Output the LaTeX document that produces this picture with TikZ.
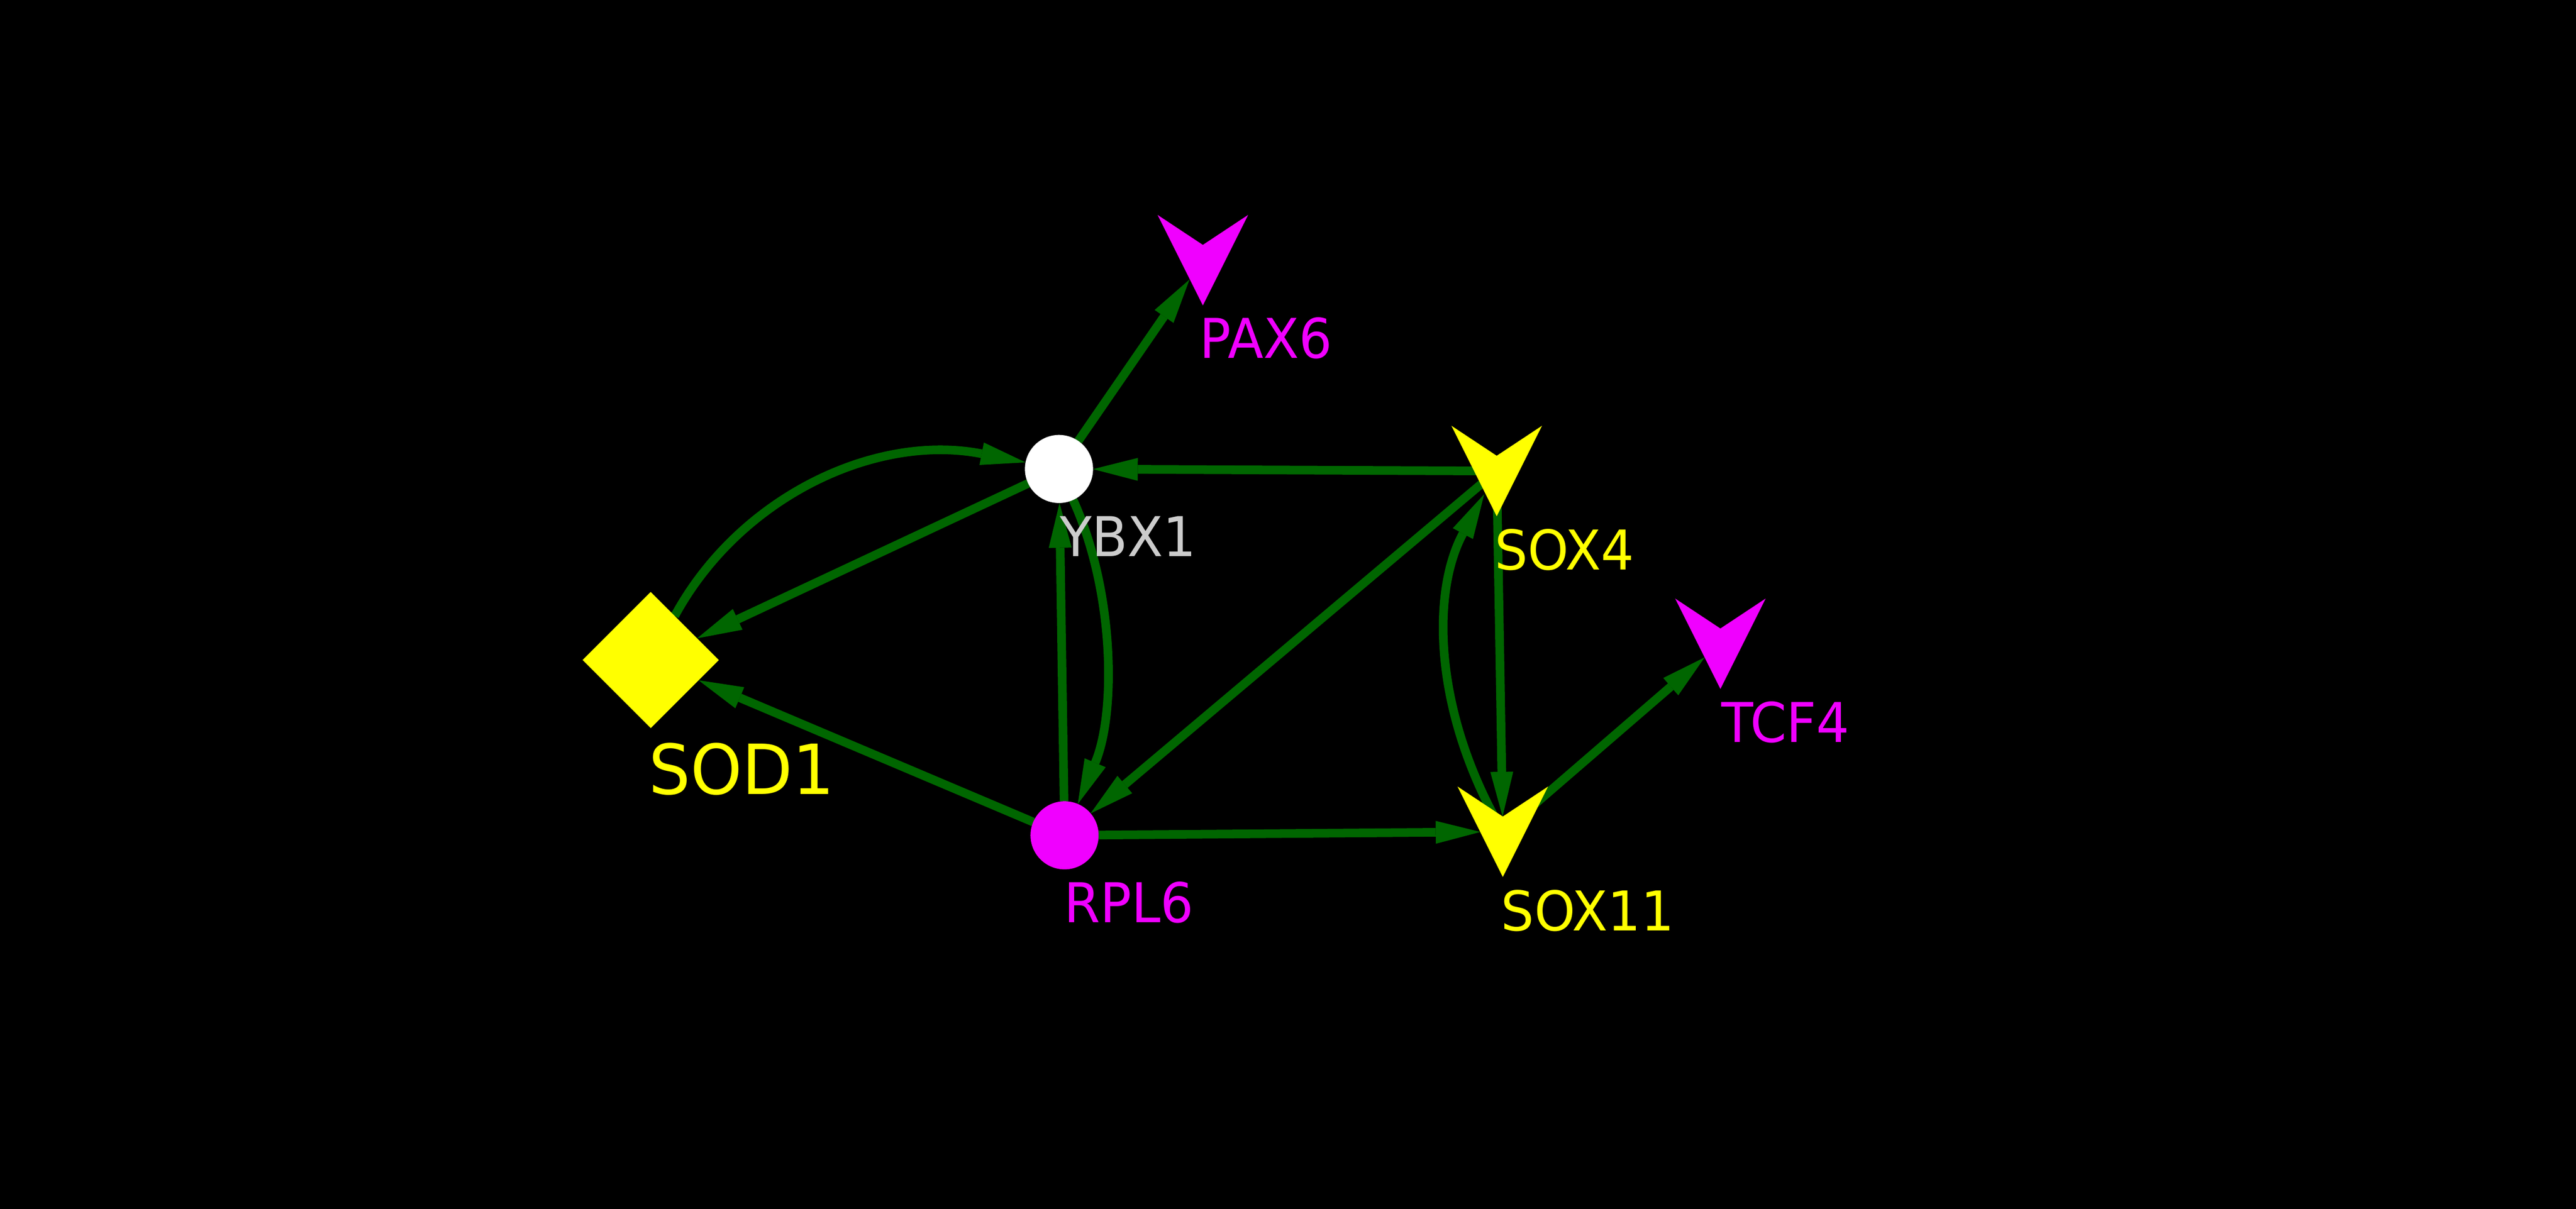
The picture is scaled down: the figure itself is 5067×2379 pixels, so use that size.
\documentclass[tikz,border=0pt]{standalone}
\usepackage{fontspec}
\setmainfont{DejaVu Sans}[FakeStretch=0.95]
\usetikzlibrary{arrows.meta,shapes.geometric}
\pgfdeclarelayer{back}
\pgfdeclarelayer{edges}
\pgfsetlayers{back,edges,main}
\definecolor{mag}{RGB}{240,0,255}
\definecolor{edgegreen}{RGB}{0,102,0}
\definecolor{lgray}{RGB}{204,204,204}
\definecolor{yel}{RGB}{255,255,0}
\tikzset{
  dot/.style={circle, inner sep=0pt, outer sep=0pt, minimum size=13.4mm},
  dia/.style={diamond, aspect=1, inner sep=0pt, outer sep=0pt, minimum width=26.8mm, minimum height=26.8mm, fill=yel},
  pt/.style={circle, inner sep=0pt, outer sep=0pt, minimum size=0pt},
  edge/.style={draw=edgegreen, line width=1.7mm,
    -{Triangle[length=8.8mm,width=4.5mm,line width=0pt]}},
  lab/.style={anchor=base west, inner sep=0pt, outer sep=0pt,
    font=\fontsize{30.7pt}{30.7pt}\selectfont},
  biglab/.style={lab, font=\fontsize{38.7pt}{38.7pt}\selectfont},
  chev/.pic={\fill[pic actions] (-89,-89) -- (0,-30) -- (89,-89) -- (0,89) -- cycle;}
}
\begin{document}
\begin{tikzpicture}[x=0.1mm, y=-0.1mm]
\begin{pgfonlayer}{back}
\fill[black] (0,0) rectangle (5067,2379);
\end{pgfonlayer}
\useasboundingbox (0,0) rectangle (5067,2379);

% nodes
\node[dot, fill=white] (ybx1) at (2083,923) {};
\node[dot, fill=mag] (rpl6) at (2094,1644) {};
\node[dia] (sod1) at (1280,1299) {};
\node[pt] (pax6) at (2366,512) {};
\node[pt] (sox4) at (2944,927) {};
\node[pt] (sox11) at (2956,1637) {};
\node[pt] (tcf4) at (3384,1267) {};

\pic[fill=mag] at (pax6) {chev};
\pic[fill=yel] at (sox4) {chev};
\pic[fill=yel] at (sox11) {chev};
\pic[fill=mag] at (tcf4) {chev};

% edges
\begin{pgfonlayer}{edges}
\draw[edge, shorten >=4.65mm] (ybx1) -- (pax6.center);
\draw[edge] (sox4.center) -- (ybx1);
\draw[edge] (sox4.center) -- (rpl6);
\draw[edge] (rpl6) -- (ybx1);
\draw[edge] (ybx1) -- (sod1);
\draw[edge] (rpl6) -- (sod1);
\draw[edge, shorten >=4.4mm] (rpl6) -- (sox11.center);
\draw[edge, shorten >=3mm] (sox4.center) -- (sox11.center);
\draw[edge, shorten >=4.1mm] (sox11.center) -- (tcf4.center);
\draw[edge] (sod1) .. controls (1455,977) and (1723,852) .. (ybx1);
\draw[edge] (ybx1) .. controls (2192,1162) and (2196,1402) .. (rpl6);
\draw[edge, shorten >=5.2mm] (sox11.center) .. controls (2819,1402) and (2815,1166) .. (sox4.center);
\end{pgfonlayer}

% labels
\node[lab, text=mag] (pax6l) at (2360,705) {PAX6};
\node[lab, text=lgray] (ybx1l) at (2085,1095) {YBX1};
\node[lab, text=yel] (sox4l) at (2940,1121) {SOX4};
\node[lab, text=mag] (tcf4l) at (3386,1461) {TCF4};
\node[lab, text=yel] (sox11l) at (2953,1832) {SOX11};
\node[lab, text=mag] (rpl6l) at (2093,1815) {RPL6};
\node[biglab, text=yel] (sod1l) at (1276,1563) {SOD1};
\end{tikzpicture}
\end{document}
